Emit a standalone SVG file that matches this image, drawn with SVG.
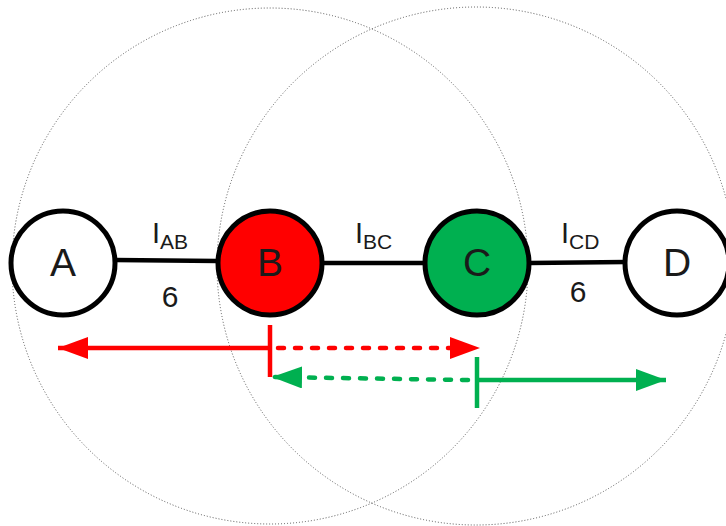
<svg xmlns="http://www.w3.org/2000/svg" width="726" height="526" viewBox="0 0 726 526">
<style>
.range{fill:none;stroke:#555;stroke-width:1;stroke-dasharray:1 2}
.node{stroke:#000;stroke-width:5}
.edge{stroke:#000;stroke-width:4.5;fill:none}
.lbl{font-family:"Liberation Sans",Arial,sans-serif;fill:#1a1a1a}
.red{stroke:#FF0000;stroke-width:4.5;fill:none}
.grn{stroke:#00B050;stroke-width:4.5;fill:none}
.dash{stroke-dasharray:6 11;stroke-linecap:round}
</style>
<defs>
<marker id="ar" viewBox="0 0 30 22" refX="30" refY="11" markerWidth="30" markerHeight="22" markerUnits="userSpaceOnUse" orient="auto"><path d="M0,0 L30,11 L0,22 Z" fill="#FF0000"/></marker>
<marker id="ag" viewBox="0 0 30 22" refX="30" refY="11" markerWidth="30" markerHeight="22" markerUnits="userSpaceOnUse" orient="auto"><path d="M0,0 L30,11 L0,22 Z" fill="#00B050"/></marker>
</defs>
<rect width="726" height="526" fill="#fff"/>
<g id="ranges">
<circle class="range" cx="270" cy="266" r="258"/>
<circle class="range" cx="476" cy="266" r="259"/>
</g>
<g id="connectors">
<line class="edge" x1="115" y1="260" x2="218" y2="261"/>
<line class="edge" x1="322" y1="263" x2="425" y2="263"/>
<line class="edge" x1="529" y1="263" x2="626" y2="262"/>
<line class="red" x1="270" y1="348" x2="58" y2="348" marker-end="url(#ar)"/>
<line class="red dash" x1="278" y1="348" x2="480" y2="348" marker-end="url(#ar)"/>
<line class="red" x1="270" y1="325" x2="270" y2="377"/>
<line class="grn dash" x1="468" y1="380" x2="272" y2="377" marker-end="url(#ag)"/>
<line class="grn" x1="477" y1="380" x2="666" y2="380" marker-end="url(#ag)"/>
<line class="grn" x1="477" y1="357" x2="477" y2="408"/>
</g>
<g id="labels" class="lbl">
<text x="152" y="243" font-size="29">I<tspan font-size="21" dy="6">AB</tspan></text>
<text x="170" y="307" font-size="30" text-anchor="middle">6</text>
<text x="355" y="243" font-size="29">I<tspan font-size="21" dy="6">BC</tspan></text>
<text x="561" y="243" font-size="29">I<tspan font-size="21" dy="6">CD</tspan></text>
<text x="578" y="302" font-size="30" text-anchor="middle">6</text>
</g>
<g id="node-A"><circle class="node" cx="63" cy="263" r="52" fill="#fff"/><text class="lbl" x="63" y="276" font-size="39" text-anchor="middle">A</text></g>
<g id="node-B"><circle class="node" cx="270" cy="263" r="52" fill="#FF0000"/><text class="lbl" x="270" y="276" font-size="39" text-anchor="middle">B</text></g>
<g id="node-C"><circle class="node" cx="477" cy="263" r="52" fill="#00B050"/><text class="lbl" x="477" y="276" font-size="39" text-anchor="middle">C</text></g>
<g id="node-D"><circle class="node" cx="677" cy="263" r="52" fill="#fff"/><text class="lbl" x="677" y="276" font-size="39" text-anchor="middle">D</text></g>
</svg>
